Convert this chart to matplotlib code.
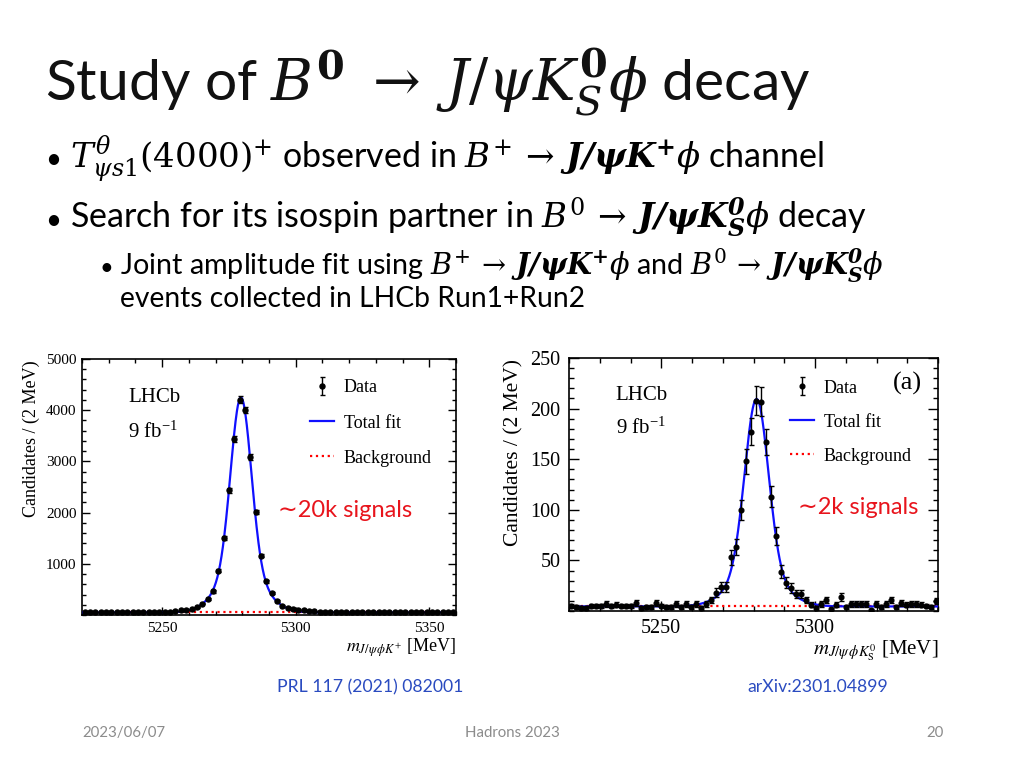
#!/usr/bin/env python3
"""
Slide: Study of B0 -> J/psi K0S phi decay.
Two LHCb mass spectra (B+ and B0) with fit curves, plus slide text.
"""
import numpy as np
import matplotlib
matplotlib.use('Agg')
import matplotlib.pyplot as plt
from matplotlib.ticker import FixedLocator, MultipleLocator

# Left panel: m(J/psi phi K+), 2 MeV bins, 5220-5360 MeV
bp_edges = np.arange(5220, 5361, 2)
bp_counts = [52, 50, 49, 51, 50, 52, 50, 53, 51, 54, 52, 55, 57, 55, 58, 60, 64,
             78, 90, 103, 117, 148, 220, 312, 460, 865, 1498, 2436, 3446, 4208,
             4000, 3088, 2013, 1160, 655, 430, 280, 178, 145, 118, 100, 88, 80,
             75, 66,
             58, 57, 55, 56, 54, 55, 53, 56, 54, 52, 55, 53, 54, 52, 53, 55, 51,
             53, 52, 54, 52, 51, 53, 52, 54]
# fit: mean, core/wide gaussian heights and widths, flat background
bp_fit = {'mean': 5279.5, 'a1': 3350, 's1': 3.8, 'a2': 850, 's2': 8.0, 'bkg': 50}

# Right panel: m(J/psi phi K0S), 5220-5340 MeV
b0_edges = np.linspace(5220, 5340, 75)
b0_counts = [5, 4, 3, 3, 5, 5, 5, 7, 5, 6, 5, 5, 5, 8, 3, 4, 4, 8, 5, 4, 4, 7, 4,
             7, 4, 7, 3, 7, 11, 18, 24, 24, 53, 63, 100, 148, 177, 208, 207, 167,
             113, 74, 39, 28, 23, 17, 17, 11, 6, 3,
             7, 11, 2, 6, 14, 4, 7, 7, 7, 7, 1, 7, 4, 7, 11, 4, 8, 6, 7, 7, 6, 5,
             4, 10]
b0_fit = {'mean': 5281.0, 'a1': 170, 's1': 3.8, 'a2': 35, 's2': 8.0, 'bkg': 4.5}

W, H = 1024, 768
serif = 'Liberation Serif'
sans = 'Lato'


def fx(x):
    return x / W


def fy(y):
    return 1 - y / H


def model(x, p):
    d = x - p['mean']
    return (p['a1'] * np.exp(-d**2 / (2 * p['s1']**2))
            + p['a2'] * np.exp(-d**2 / (2 * p['s2']**2)) + p['bkg'])


def draw_panel(ax, edges, counts, fit, p):
    centers = 0.5 * (edges[1:] + edges[:-1])
    counts = np.array(counts, dtype=float)
    errs = np.sqrt(np.maximum(counts, 1))
    xs = np.linspace(edges[0], edges[-1], 800)
    ax.plot(xs, np.full_like(xs, fit['bkg']), ':', color='#ff0000', lw=1.6,
            label='Background', zorder=2)
    ax.plot(xs, model(xs, fit), '-', color='#1010ff', lw=1.6,
            label='Total fit', zorder=3)
    ax.errorbar(centers, counts, yerr=errs, fmt='o', color='black', ms=p['ms'],
                elinewidth=1.0, capsize=1.8, capthick=1.0, label='Data', zorder=4)
    ax.set_xlim(edges[0], edges[-1])
    ax.set_ylim(0, p['ymax'])
    ax.xaxis.set_major_locator(FixedLocator(p['xt']))
    ax.xaxis.set_minor_locator(MultipleLocator(10))
    ax.yaxis.set_major_locator(FixedLocator(p['yt']))
    ax.yaxis.set_minor_locator(MultipleLocator(p['ymin']))
    ax.tick_params(which='both', direction='in', top=True, right=True,
                   width=1.0, labelsize=p['tick'])
    ax.tick_params(which='major', length=p['major'])
    ax.tick_params(which='minor', length=p['major'] / 2)
    ax.tick_params(axis='x', pad=p['xpad'])
    ax.tick_params(axis='y', pad=p['ypad'])
    for lab in ax.get_xticklabels() + ax.get_yticklabels():
        lab.set_family(serif)
    for s in ax.spines.values():
        s.set_linewidth(1.2)
    ax.set_ylabel('Candidates / (2 MeV)', family=serif, fontsize=p['ylab'])
    ax.yaxis.set_label_coords(p['ylx'], p['yly'])
    ax.set_xlabel(p['xlabel'], family=serif, fontsize=p['xlab'], loc='right',
                  labelpad=p['xlpad'], math_fontfamily='stix')
    ax.text(p['lx'], 0.85, 'LHCb', transform=ax.transAxes, family=serif,
            fontsize=15, va='center')
    ax.text(p['lx'], p['fby'], r'9 fb$^{\mathregular{-1}}$', transform=ax.transAxes,
            family=serif, fontsize=15, va='center', math_fontfamily='stix')
    h, l = ax.get_legend_handles_labels()
    order = [l.index('Data'), l.index('Total fit'), l.index('Background')]
    ax.legend([h[i] for i in order], [l[i] for i in order], loc='upper left',
              bbox_to_anchor=(p['legx'], p['legy']), frameon=False,
              prop={'family': serif, 'size': 13}, borderpad=0, borderaxespad=0,
              labelspacing=p['lsp'], handlelength=1.3, handletextpad=0.55)
    ax.text(p['sx'], 0.41, '∼' + p['sig'], transform=ax.transAxes,
            family=[sans, 'DejaVu Sans'], fontsize=17, color='#e8141c',
            va='center')


fig = plt.figure(figsize=(10.24, 7.68), dpi=100)
fig.patch.set_facecolor('white')

ax1 = fig.add_axes([fx(82), fy(615), (456 - 82) / W, (615 - 359) / H])
draw_panel(ax1, bp_edges, bp_counts, bp_fit, {
    'ms': 3.6, 'ymax': 5000, 'xt': [5250, 5300, 5350],
    'yt': [1000, 2000, 3000, 4000, 5000], 'ymin': 200, 'tick': 11, 'major': 6,
    'xpad': 5, 'ypad': 4, 'ylab': 13, 'ylx': -0.113, 'yly': 0.69,
    'xlab': 13, 'xlpad': 1,
    'xlabel': r'$m_{J/\psi\,\phi K^{+}}$ [MeV]', 'lx': 0.123, 'fby': 0.715,
    'legx': 0.61, 'legy': 0.92, 'lsp': 1.0, 'sx': 0.525, 'sig': '20k signals'})

ax2 = fig.add_axes([fx(569), fy(611), (938 - 569) / W, (611 - 358) / H])
draw_panel(ax2, b0_edges, b0_counts, b0_fit, {
    'ms': 3.4, 'ymax': 250, 'xt': [5250, 5300],
    'yt': [50, 100, 150, 200, 250], 'ymin': 10, 'tick': 14.5, 'major': 7,
    'xpad': 6, 'ypad': 6, 'ylab': 15.5, 'ylx': -0.122, 'yly': 0.625,
    'xlab': 15, 'xlpad': 0,
    'xlabel': r'$m_{J/\psi\,\phi K^{0}_{\mathrm{S}}}$ [MeV]', 'lx': 0.127, 'fby': 0.723,
    'legx': 0.60, 'legy': 0.915, 'lsp': 0.95, 'sx': 0.62, 'sig': '2k signals'})
ax2.text(0.878, 0.90, '(a)', transform=ax2.transAxes, family=serif,
         fontsize=19, va='center')

# slide text
mf = 'dejavuserif'
fig.text(fx(45), fy(100),
         r'Study of $B^{\mathbf{0}}\;\rightarrow\;J/\psi K_{S}^{\mathbf{0}}\phi$ decay',
         family=sans, fontsize=41, va='baseline', math_fontfamily=mf,
         color='#111111')

fig.text(fx(45), fy(168), '•', family=sans, fontsize=20, va='baseline')
fig.text(fx(70), fy(168),
         r'$T_{\psi s1}^{\theta}(4000)^{+}$ observed in '
         r'$B^{+}\,\rightarrow\,\mathbfit{J/\psi K^{+}}\phi$ channel',
         family=sans, fontsize=24.5, va='baseline', math_fontfamily=mf)

fig.text(fx(45), fy(229), '•', family=sans, fontsize=20, va='baseline')
fig.text(fx(70), fy(229),
         r'Search for its isospin partner in '
         r'$B^{0}\,\rightarrow\,\mathbfit{J/\psi K_{S}^{0}}\phi$ decay',
         family=sans, fontsize=24.5, va='baseline', math_fontfamily=mf)

fig.text(fx(99), fy(275), '•', family=sans, fontsize=17, va='baseline')
fig.text(fx(120), fy(275),
         r'Joint amplitude fit using $B^{+}\,\rightarrow\,\mathbfit{J/\psi K^{+}}\phi$ and '
         r'$B^{0}\,\rightarrow\,\mathbfit{J/\psi K_{S}^{0}}\phi$',
         family=sans, fontsize=20.7, va='baseline', math_fontfamily=mf)
fig.text(fx(120), fy(307), 'events collected in LHCb Run1+Run2',
         family=sans, fontsize=20.3, va='baseline')

# references
fig.text(fx(277), fy(687), 'PRL 117 (2021) 082001', family=sans, fontsize=12.7,
         color='#2a4bc0', va='center')
fig.text(fx(747), fy(687), 'arXiv:2301.04899', family=sans, fontsize=12.7,
         color='#2a4bc0', va='center')

# footer
fig.text(fx(82), fy(733), '2023/06/07', family=sans, fontsize=10.8,
         color='#8c8c8c', va='center')
fig.text(fx(512), fy(733), 'Hadrons 2023', family=sans, fontsize=10.8,
         color='#8c8c8c', va='center', ha='center')
fig.text(fx(944), fy(733), '20', family=sans, fontsize=10.8,
         color='#8c8c8c', va='center', ha='right')

fig.savefig('out.png', dpi=100, facecolor='white')
